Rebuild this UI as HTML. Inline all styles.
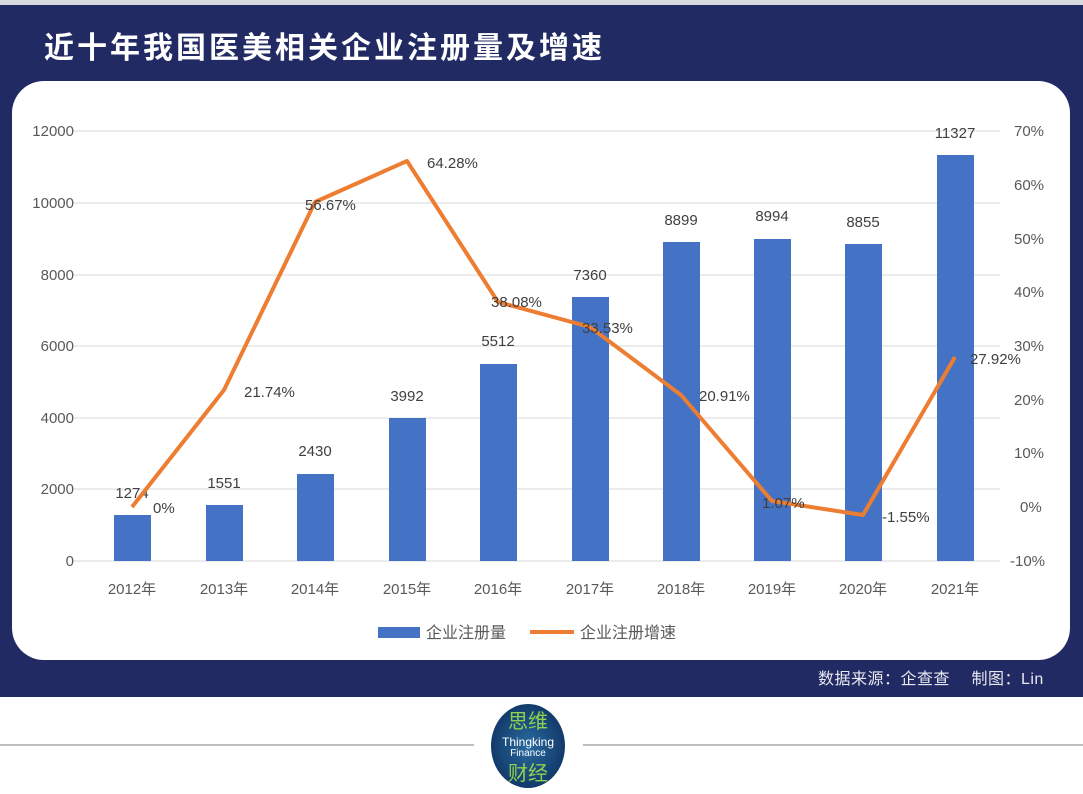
<!DOCTYPE html>
<html><head><meta charset="utf-8"><style>
body{margin:0;width:1083px;height:789px;overflow:hidden;background:#fff;font-family:"Liberation Sans","Noto Sans CJK SC",sans-serif}
</style></head><body>
<svg width="1083" height="789" xmlns="http://www.w3.org/2000/svg" font-family="Liberation Sans, Noto Sans CJK SC, sans-serif">
<rect x="0" y="0" width="1083" height="5" fill="#d8d8e0"/>
<rect x="0" y="5" width="1083" height="692" fill="#212a63"/>
<text x="44" y="58" font-size="30" font-weight="bold" fill="#fff" font-family="Noto Sans CJK SC, sans-serif" letter-spacing="3">近十年我国医美相关企业注册量及增速</text>
<rect x="12" y="81" width="1058" height="579" rx="32" fill="#fff"/>
<g stroke="#d9d9d9" stroke-width="1">
<line x1="72" y1="131" x2="1000" y2="131"/><line x1="72" y1="203" x2="1000" y2="203"/><line x1="72" y1="275" x2="1000" y2="275"/><line x1="72" y1="346" x2="1000" y2="346"/><line x1="72" y1="418" x2="1000" y2="418"/><line x1="72" y1="489" x2="1000" y2="489"/><line x1="72" y1="561" x2="1000" y2="561"/>
</g>
<g font-size="15" fill="#595959" text-anchor="end">
<text x="74" y="136">12000</text><text x="74" y="208">10000</text><text x="74" y="280">8000</text><text x="74" y="351">6000</text><text x="74" y="423">4000</text><text x="74" y="494">2000</text><text x="74" y="566">0</text>
</g>
<g font-size="15" fill="#595959">
<text x="1014" y="136">70%</text><text x="1014" y="190">60%</text><text x="1014" y="244">50%</text><text x="1014" y="297">40%</text><text x="1014" y="351">30%</text><text x="1014" y="405">20%</text><text x="1014" y="458">10%</text><text x="1020" y="512">0%</text><text x="1010" y="566">-10%</text>
</g>
<g fill="#4472c4">
<rect x="114" y="515" width="37" height="46"/><rect x="206" y="505" width="37" height="56"/><rect x="297" y="474" width="37" height="87"/><rect x="389" y="418" width="37" height="143"/><rect x="480" y="364" width="37" height="197"/><rect x="572" y="297" width="37" height="264"/><rect x="663" y="242" width="37" height="319"/><rect x="754" y="239" width="37" height="322"/><rect x="845" y="244" width="37" height="317"/><rect x="937" y="155" width="37" height="406"/>
</g>
<g font-size="15" fill="#404040" text-anchor="middle">
<text x="132" y="498">1274</text><text x="224" y="488">1551</text><text x="315" y="456">2430</text><text x="407" y="401">3992</text><text x="498" y="346">5512</text><text x="590" y="280">7360</text><text x="681" y="225">8899</text><text x="772" y="221">8994</text><text x="863" y="227">8855</text><text x="955" y="138">11327</text>
</g>
<polyline fill="none" stroke="#ed7d31" stroke-width="4" stroke-linejoin="round" points="132,507 224,390 315,202 407,161 498,302 590,327 681,395 772,501 863,515 955,357"/>
<g font-size="15" fill="#404040">
<text x="153" y="513">0%</text><text x="244" y="397">21.74%</text><text x="305" y="210">56.67%</text><text x="427" y="168">64.28%</text><text x="491" y="307">38.08%</text><text x="582" y="333">33.53%</text><text x="699" y="401">20.91%</text><text x="762" y="508">1.07%</text><text x="882" y="522">-1.55%</text><text x="970" y="364">27.92%</text>
</g>
<g font-size="15" fill="#595959" text-anchor="middle">
<text x="132" y="594">2012年</text><text x="224" y="594">2013年</text><text x="315" y="594">2014年</text><text x="407" y="594">2015年</text><text x="498" y="594">2016年</text><text x="590" y="594">2017年</text><text x="681" y="594">2018年</text><text x="772" y="594">2019年</text><text x="863" y="594">2020年</text><text x="955" y="594">2021年</text>
</g>
<rect x="378" y="627" width="42" height="11" fill="#4472c4"/>
<text x="426" y="638" font-size="16" fill="#595959">企业注册量</text>
<line x1="530" y1="632" x2="574" y2="632" stroke="#ed7d31" stroke-width="4"/>
<text x="580" y="638" font-size="16" fill="#595959">企业注册增速</text>
<text x="818" y="684" font-size="16" fill="#e8e8f0" letter-spacing="0.5">数据来源：企查查　  制图：Lin</text>
<line x1="0" y1="745" x2="474" y2="745" stroke="#aaa" stroke-width="1.5"/>
<line x1="583" y1="745" x2="1083" y2="745" stroke="#aaa" stroke-width="1.5"/>
<defs><radialGradient id="g" cx="50%" cy="50%" r="50%"><stop offset="0" stop-color="#2a6aa0"/><stop offset="1" stop-color="#123a6a"/></radialGradient></defs>
<ellipse cx="528" cy="746" rx="37" ry="42" fill="url(#g)"/>
<text x="528" y="728" font-size="20" fill="#8fd14f" text-anchor="middle" font-family="Noto Sans CJK SC, sans-serif">思维</text>
<text x="528" y="746" font-size="12" fill="#fff" text-anchor="middle">Thingking</text>
<text x="528" y="756" font-size="10" fill="#fff" text-anchor="middle">Finance</text>
<text x="528" y="780" font-size="20" fill="#8fd14f" text-anchor="middle" font-family="Noto Sans CJK SC, sans-serif">财经</text>
</svg>
</body></html>
